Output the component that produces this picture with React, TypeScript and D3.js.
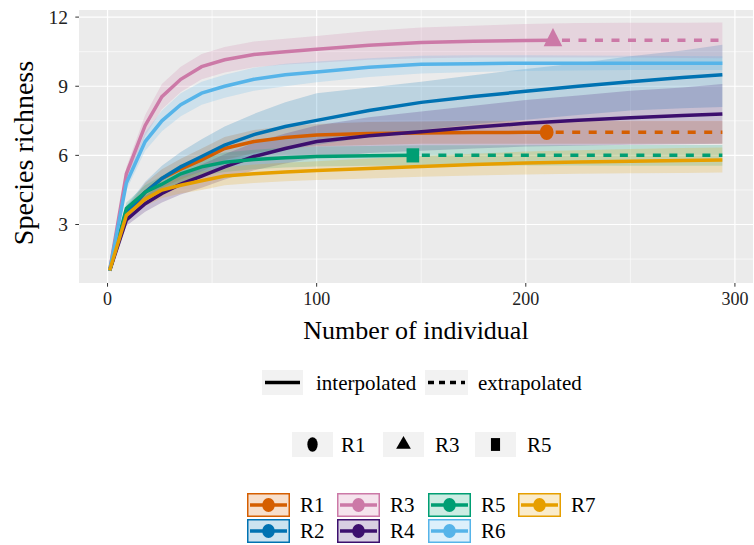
import * as d3 from "d3";
import React from "react";

const width = 754;
const height = 545;

// sample sizes (number of individuals) at which the curves were read
const sizes = [1, 9, 18, 26, 35, 45, 56, 70, 85, 100, 125, 150, 175, 200, 225, 250, 275, 294];

const sites = ["R1", "R2", "R3", "R4", "R5", "R6", "R7"];
const siteColors = ["#D55E00", "#0072B2", "#CC79A7", "#3C0F6E", "#009E73", "#56B4E9", "#E69F00"];

const r1Richness = [1, 3.4, 4.4, 5.0, 5.4, 5.8, 6.3, 6.6, 6.78, 6.88, 6.95, 6.97, 6.99, 7.0, 7.0, 7.0, 7.0, 7.0];
const r1Lower = [1, 3.1, 4.0, 4.6, 4.95, 5.3, 5.8, 6.1, 6.3, 6.4, 6.45, 6.5, 6.5, 6.5, 6.5, 6.5, 6.5, 6.5];
const r1Upper = [1, 3.7, 4.8, 5.4, 5.85, 6.3, 6.8, 7.1, 7.26, 7.36, 7.45, 7.47, 7.5, 7.5, 7.5, 7.5, 7.5, 7.5];

const r2Richness = [1, 3.5, 4.4, 5.0, 5.5, 5.95, 6.45, 6.9, 7.25, 7.52, 7.95, 8.3, 8.55, 8.78, 9.0, 9.2, 9.38, 9.5];
const r2Lower = [1, 3.2, 3.95, 4.45, 4.8, 5.15, 5.6, 5.95, 6.25, 6.45, 6.8, 7.1, 7.35, 7.55, 7.75, 7.95, 8.05, 8.1];
const r2Upper = [1, 3.8, 4.85, 5.55, 6.15, 6.7, 7.25, 7.8, 8.3, 8.7, 8.95, 9.2, 9.48, 9.75, 10.0, 10.3, 10.55, 10.8];

const r3Richness = [1, 5.2, 7.3, 8.55, 9.3, 9.85, 10.15, 10.38, 10.5, 10.6, 10.78, 10.9, 10.95, 10.98, 11, 11, 11, 11];
const r3Lower = [1, 4.9, 6.85, 8.0, 8.75, 9.3, 9.6, 9.82, 9.94, 10.02, 10.15, 10.22, 10.25, 10.25, 10.25, 10.25, 10.23, 10.22];
const r3Upper = [1, 5.5, 7.75, 9.1, 9.85, 10.4, 10.7, 10.94, 11.06, 11.18, 11.4, 11.55, 11.63, 11.7, 11.74, 11.75, 11.76, 11.77];

const r4Richness = [1, 3.2, 3.9, 4.35, 4.75, 5.1, 5.5, 5.95, 6.3, 6.6, 6.85, 7.03, 7.22, 7.39, 7.52, 7.63, 7.73, 7.8];
const r4Lower = [1, 2.95, 3.55, 3.95, 4.3, 4.6, 4.95, 5.35, 5.65, 5.9, 6.1, 6.2, 6.3, 6.38, 6.42, 6.46, 6.48, 6.5];
const r4Upper = [1, 3.45, 4.25, 4.75, 5.2, 5.6, 6.05, 6.55, 6.95, 7.3, 7.65, 7.9, 8.15, 8.4, 8.6, 8.8, 8.95, 9.1];

const r5Richness = [1, 3.7, 4.4, 4.75, 5.2, 5.5, 5.7, 5.82, 5.9, 5.95, 5.98, 6, 6, 6, 6, 6, 6, 6];
const r5Lower = [1, 3.45, 4.1, 4.4, 4.8, 5.1, 5.28, 5.4, 5.47, 5.52, 5.55, 5.56, 5.56, 5.56, 5.56, 5.55, 5.55, 5.55];
const r5Upper = [1, 3.95, 4.7, 5.1, 5.6, 5.9, 6.12, 6.24, 6.33, 6.38, 6.41, 6.44, 6.44, 6.44, 6.44, 6.45, 6.45, 6.45];

const r6Richness = [1, 4.8, 6.6, 7.5, 8.2, 8.7, 9.0, 9.3, 9.5, 9.62, 9.82, 9.95, 9.98, 10.0, 10, 10, 10, 10];
const r6Lower = [1, 4.5, 6.2, 7.05, 7.7, 8.2, 8.5, 8.8, 9.0, 9.17, 9.4, 9.55, 9.62, 9.66, 9.68, 9.7, 9.7, 9.7];
const r6Upper = [1, 5.1, 7.0, 7.95, 8.7, 9.2, 9.5, 9.8, 9.98, 10.07, 10.22, 10.32, 10.35, 10.35, 10.33, 10.32, 10.31, 10.3];

const r7Richness = [1, 3.4, 4.1, 4.5, 4.7, 4.9, 5.1, 5.2, 5.28, 5.34, 5.43, 5.52, 5.6, 5.67, 5.71, 5.75, 5.78, 5.8];
const r7Lower = [1, 3.15, 3.8, 4.15, 4.35, 4.5, 4.7, 4.8, 4.88, 4.93, 5.0, 5.07, 5.13, 5.17, 5.2, 5.22, 5.24, 5.26];
const r7Upper = [1, 3.65, 4.4, 4.85, 5.05, 5.3, 5.5, 5.6, 5.68, 5.75, 5.86, 5.97, 6.07, 6.17, 6.22, 6.28, 6.32, 6.34];

// reference samples (observed) -> marker, split interpolated / extrapolated
const refSites = ["R1", "R3", "R5"];
const refSizes = [210, 213, 146];
const refRichness = [7, 11, 6];
const refShapes = [d3.symbolCircle, d3.symbolTriangle, d3.symbolSquare];

const xTicks = [0, 100, 200, 300];
const xMinor = [50, 150, 250];
const yTicks = [3, 6, 9, 12];
const yMinor = [1.5, 4.5, 7.5, 10.5];

const richness = [r1Richness, r2Richness, r3Richness, r4Richness, r5Richness, r6Richness, r7Richness];
const lowers = [r1Lower, r2Lower, r3Lower, r4Lower, r5Lower, r6Lower, r7Lower];
const uppers = [r1Upper, r2Upper, r3Upper, r4Upper, r5Upper, r6Upper, r7Upper];

const panel = { left: 79, right: 753, top: 10, bottom: 283 };
const serif = { fontFamily: "'Liberation Serif', 'Times New Roman', serif" };

type Pt = { m: number; qD: number; lo: number; hi: number };

const series = sites.map((name, i) => {
  const pts: Pt[] = sizes.map((m, j) => ({ m, qD: richness[i][j], lo: lowers[i][j], hi: uppers[i][j] }));
  const k = refSites.indexOf(name);
  if (k < 0) return { name, color: siteColors[i], pts, interp: pts, extrap: [] as Pt[], ref: null as Pt | null, shape: null as any };
  const ref = { m: refSizes[k], qD: refRichness[k], lo: 0, hi: 0 };
  return {
    name,
    color: siteColors[i],
    pts,
    interp: [...pts.filter((p) => p.m < ref.m), ref],
    extrap: [ref, ...pts.filter((p) => p.m > ref.m)],
    ref,
    shape: refShapes[k],
  };
});

// ggplot-like 5% expansion
const xExt = d3.extent(sizes) as [number, number];
const yExt = [d3.min(lowers.flat()) as number, d3.max(uppers.flat()) as number];
const xPad = (xExt[1] - xExt[0]) * 0.05;
const yPad = (yExt[1] - yExt[0]) * 0.05;

const x = d3.scaleLinear().domain([xExt[0] - xPad, xExt[1] + xPad]).range([panel.left, panel.right]);
const y = d3.scaleLinear().domain([yExt[0] - yPad, yExt[1] + yPad]).range([panel.bottom, panel.top]);

const band = d3.area<Pt>().x((d) => x(d.m)).y0((d) => y(d.lo)).y1((d) => y(d.hi));
const line = d3.line<Pt>().x((d) => x(d.m)).y((d) => y(d.qD));

const App = () => {
  const legendCols = [247, 337, 428, 518];
  const legendRows = [493, 519];
  return (
    <svg width={width} height={height} style={{ position: "absolute", left: 0, top: 0, background: "#fff" }}>
      <rect x={panel.left} y={panel.top} width={panel.right - panel.left} height={panel.bottom - panel.top} fill="#EBEBEB" />
      {xMinor.map((t) => (
        <line key={"xm" + t} x1={x(t)} x2={x(t)} y1={panel.top} y2={panel.bottom} stroke="#fff" strokeWidth={0.6} />
      ))}
      {yMinor.map((t) => (
        <line key={"ym" + t} y1={y(t)} y2={y(t)} x1={panel.left} x2={panel.right} stroke="#fff" strokeWidth={0.6} />
      ))}
      {xTicks.map((t) => (
        <line key={"xM" + t} x1={x(t)} x2={x(t)} y1={panel.top} y2={panel.bottom} stroke="#fff" strokeWidth={1.2} />
      ))}
      {yTicks.map((t) => (
        <line key={"yM" + t} y1={y(t)} y2={y(t)} x1={panel.left} x2={panel.right} stroke="#fff" strokeWidth={1.2} />
      ))}

      {series.map((s) => (
        <path key={"b" + s.name} d={band(s.pts) ?? ""} fill={s.color} fillOpacity={0.2} />
      ))}
      {series.map((s) => (
        <g key={"l" + s.name}>
          <path d={line(s.interp) ?? ""} fill="none" stroke={s.color} strokeWidth={3.5} />
          {s.extrap.length > 0 && (
            <path d={line(s.extrap) ?? ""} fill="none" stroke={s.color} strokeWidth={3.5} strokeDasharray="8,8.5" strokeDashoffset={-9} />
          )}
        </g>
      ))}
      {series.map((s) =>
        s.ref ? (
          <path
            key={"p" + s.name}
            transform={`translate(${x(s.ref.m)},${y(s.ref.qD)}) scale(1,1.12)`}
            d={d3.symbol().type(s.shape).size(s.shape === d3.symbolTriangle ? 150 : s.shape === d3.symbolSquare ? 160 : 150)() ?? ""}
            fill={s.color}
          />
        ) : null
      )}

      {/* axes */}
      {xTicks.map((t) => (
        <g key={"xt" + t}>
          <line x1={x(t)} x2={x(t)} y1={panel.bottom} y2={panel.bottom + 3.7} stroke="#333" strokeWidth={1} />
          <text x={x(t)} y={305} textAnchor="middle" fontSize={18} fill="#222" style={serif}>
            {t}
          </text>
        </g>
      ))}
      {yTicks.map((t) => (
        <g key={"yt" + t}>
          <line x1={panel.left - 3.7} x2={panel.left} y1={y(t)} y2={y(t)} stroke="#333" strokeWidth={1} />
          <text x={68} y={y(t) + 6.5} textAnchor="end" fontSize={19.5} fill="#222" style={serif}>
            {t}
          </text>
        </g>
      ))}
      <text x={(panel.left + panel.right) / 2} y={339} textAnchor="middle" fontSize={26} style={serif}>
        Number of individual
      </text>
      <text transform={`translate(33,${153}) rotate(-90)`} textAnchor="middle" fontSize={28} style={serif}>
        Species richness
      </text>

      {/* linetype legend */}
      <rect x={262} y={370} width={41} height={25} fill="#F2F2F2" />
      <line x1={265} x2={300} y1={382.5} y2={382.5} stroke="#000" strokeWidth={3.5} />
      <text x={316} y={389.5} fontSize={21} style={serif}>interpolated</text>
      <rect x={425} y={370} width={43} height={25} fill="#F2F2F2" />
      <line x1={428} x2={465} y1={382.5} y2={382.5} stroke="#000" strokeWidth={3.5} strokeDasharray="6,5" />
      <text x={478} y={389.5} fontSize={21} style={serif}>extrapolated</text>

      {/* shape legend */}
      {refSites.map((name, k) => {
        const bx = [292, 383, 475][k];
        const tx = [341, 435, 527][k];
        return (
          <g key={"sh" + name}>
            <rect x={bx} y={432} width={41} height={25} fill="#F2F2F2" />
            <path
              transform={`translate(${bx + 20.5},${444.5}) scale(${k === 1 ? 1.05 : 0.85},${k === 1 ? 1.05 : 1.2})`}
              d={d3.symbol().type(refShapes[k]).size(k === 1 ? 85 : 115)() ?? ""}
              fill="#000"
            />
            <text x={tx} y={451.5} fontSize={21} style={serif}>{name}</text>
          </g>
        );
      })}

      {/* colour legend */}
      {series.map((s, i) => {
        const bx = legendCols[Math.floor(i / 2)];
        const by = legendRows[i % 2];
        const cy = by + 12;
        return (
          <g key={"cl" + s.name}>
            <rect x={bx} y={by} width={43} height={24} fill="#fff" />
            <rect x={bx + 0.75} y={by + 0.75} width={41.5} height={22.5} fill={s.color} fillOpacity={0.2} stroke={s.color} strokeWidth={1.5} />
            <line x1={bx + 3} x2={bx + 40} y1={cy} y2={cy} stroke={s.color} strokeWidth={3.5} />
            <ellipse cx={bx + 21.5} cy={cy} rx={6.3} ry={7} fill={s.color} />
            <text x={bx + 53} y={cy + 7} fontSize={21} style={serif}>{s.name}</text>
          </g>
        );
      })}
    </svg>
  );
};

export default App;
